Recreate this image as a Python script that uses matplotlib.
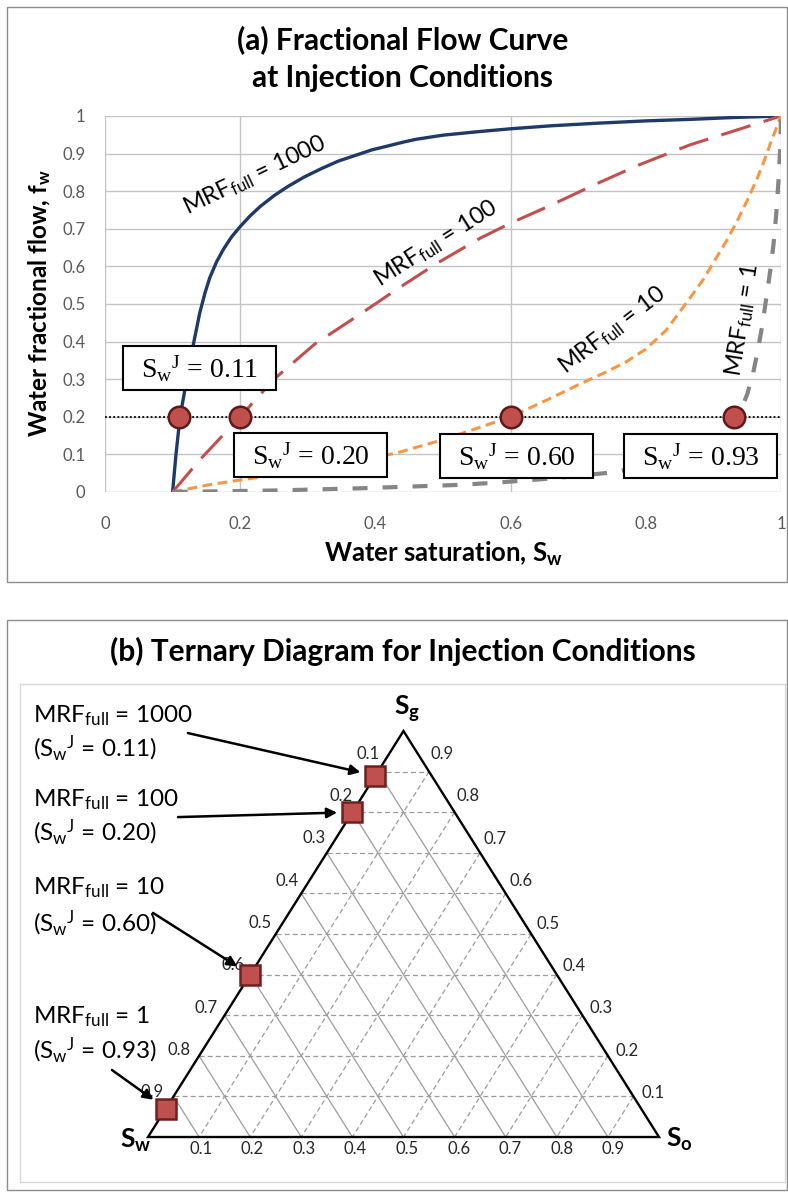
import matplotlib
matplotlib.use("Agg")
import matplotlib.pyplot as plt
import numpy as np
from matplotlib.patches import Rectangle, Polygon
from matplotlib.transforms import Affine2D

plt.rcParams["font.family"] = ["Lato", "DejaVu Sans"]
plt.rcParams["mathtext.default"] = "regular"

# ---------------- data ----------------
mrf_values = [1000, 100, 10, 1]

sw_mrf1000 = [0.10, 0.105, 0.111, 0.118, 0.124, 0.131, 0.14, 0.148, 0.155, 0.165,
              0.175, 0.187, 0.20, 0.215, 0.23, 0.25, 0.27, 0.295, 0.32, 0.345,
              0.37, 0.395, 0.42, 0.44, 0.46, 0.50, 0.55, 0.60, 0.66, 0.73,
              0.80, 0.865, 0.93, 1.0]
fw_mrf1000 = [0.0, 0.10, 0.20, 0.27, 0.33, 0.395, 0.475, 0.53, 0.57, 0.612,
              0.645, 0.678, 0.706, 0.735, 0.76, 0.788, 0.812, 0.838, 0.86, 0.88,
              0.895, 0.91, 0.921, 0.93, 0.938, 0.949, 0.958, 0.966, 0.974, 0.981,
              0.987, 0.991, 0.996, 1.0]

sw_mrf100 = [0.10, 0.14, 0.20, 0.25, 0.31, 0.375, 0.43, 0.49, 0.555, 0.60,
             0.66, 0.725, 0.79, 0.865, 0.935, 1.0]
fw_mrf100 = [0.0, 0.085, 0.20, 0.30, 0.393, 0.47, 0.537, 0.607, 0.675, 0.715,
             0.763, 0.818, 0.870, 0.923, 0.963, 1.0]

sw_mrf10 = [0.10, 0.15, 0.20, 0.26, 0.43, 0.49, 0.54, 0.60, 0.63, 0.66,
            0.70, 0.74, 0.77, 0.80, 0.83, 0.865, 0.885, 0.905, 0.92, 0.935,
            0.95, 0.965, 0.975, 0.985, 1.0]
fw_mrf10 = [0.0, 0.018, 0.032, 0.047, 0.103, 0.134, 0.163, 0.20, 0.225, 0.25,
            0.285, 0.318, 0.345, 0.38, 0.43, 0.515, 0.565, 0.625, 0.67, 0.72,
            0.775, 0.835, 0.88, 0.93, 1.0]

sw_mrf1 = [0.10, 0.25, 0.38, 0.525, 0.58, 0.66, 0.75, 0.85, 0.90, 0.922,
           0.937, 0.95, 0.958, 0.965, 0.972, 0.979, 0.985, 0.989, 0.993, 0.996,
           0.999, 1.0]
fw_mrf1 = [0.0, 0.004, 0.01, 0.019, 0.025, 0.036, 0.052, 0.085, 0.13, 0.165,
           0.20, 0.26, 0.31, 0.37, 0.44, 0.525, 0.60, 0.66, 0.74, 0.82,
           0.92, 1.0]

sw_inj = [0.11, 0.20, 0.60, 0.93]   # water saturation at injection point
fw_inj = 0.2                        # injected water fraction

x_ticks = [0, 0.2, 0.4, 0.6, 0.8, 1.0]
x_ticklabels = ["0", "0.2", "0.4", "0.6", "0.8", "1"]
y_ticks = [round(0.1 * i, 1) for i in range(11)]
y_ticklabels = ["0", "0.1", "0.2", "0.3", "0.4", "0.5", "0.6", "0.7", "0.8", "0.9", "1"]

tern_levels = [0.1, 0.2, 0.3, 0.4, 0.5, 0.6, 0.7, 0.8, 0.9]

# ---------------- figure ----------------
W, H = 788, 1192
fig = plt.figure(figsize=(W / 100, H / 100), dpi=100)
pix = Affine2D().scale(1 / W, -1 / H).translate(0, 1) + fig.transFigure


def ax_rect(l, t, r, b):
    return [l / W, 1 - b / H, (r - l) / W, (b - t) / H]


def mrf_label(v):
    return r"MRF$_{full}$ = %d" % v


def swj_label(v):
    return r"S$_{w}{}^{J}$ = %.2f" % v


# panel frames
fig.add_artist(Rectangle((7, 7), 780, 575, transform=pix, fill=False,
                         ec="#8c8c8c", lw=1.0))
fig.add_artist(Rectangle((7, 620), 780, 570, transform=pix, fill=False,
                         ec="#8c8c8c", lw=1.0))

# ================= (a) fractional flow =================
fig.text(403, 49, "(a) Fractional Flow Curve", transform=pix, ha="center",
         va="baseline", fontsize=21.5, fontweight="bold")
fig.text(403, 87, "at Injection Conditions", transform=pix, ha="center",
         va="baseline", fontsize=21.5, fontweight="bold")

ax = fig.add_axes(ax_rect(105, 116, 781, 492))
ax.set_xlim(0, 1)
ax.set_ylim(0, 1)
for s in ax.spines.values():
    s.set_visible(False)
ax.set_xticks(x_ticks)
ax.set_xticklabels(x_ticklabels)
ax.set_yticks(y_ticks)
ax.set_yticklabels(y_ticklabels)
ax.tick_params(length=0, labelsize=12, colors="#595959")
ax.tick_params(axis="x", pad=17)
ax.tick_params(axis="y", pad=14)

grid_c = "#c4c4c4"
for yv in y_ticks:
    ax.axhline(yv, color=grid_c, lw=1.0, zorder=0)
for xv in [0.0, 0.2, 0.6, 1.0]:
    ax.axvline(xv, color=grid_c, lw=1.0, zorder=0)

ax.plot(sw_mrf1000, fw_mrf1000, color="#1f3a68", lw=2.4, zorder=3)
ax.plot(sw_mrf100, fw_mrf100, color="#c0504d", lw=2.2, dashes=(10, 4.5), zorder=3)
ax.plot(sw_mrf10, fw_mrf10, color="#f79646", lw=2.2, dashes=(3.2, 1.8), zorder=3)
ax.plot(sw_mrf1, fw_mrf1, color="#858585", lw=3.0, dashes=(3.6, 3.6), zorder=3)

ax.plot([0, 1], [fw_inj, fw_inj], color="black", lw=1.3,
        dashes=(1, 1.3), zorder=4)
ax.plot(sw_inj, [fw_inj] * len(sw_inj), "o", ms=15.5, mfc="#c0504d",
        mec="#5e1a18", mew=1.8, zorder=6, ls="none")

# curve labels
curve_lab_pos = [(0.222, 0.843, 25.5), (0.490, 0.662, 32.5),
                 (0.751, 0.430, 37.5), (0.944, 0.457, 81)]
for v, (lx, ly, rot) in zip(mrf_values, curve_lab_pos):
    ax.text(lx, ly, mrf_label(v), rotation=rot, rotation_mode="anchor",
            ha="center", va="center", fontsize=17, zorder=7)

# S_w^J boxes
box_pos = [(0.1398, 0.331), (0.3047, 0.0997), (0.6087, 0.0957), (0.881, 0.0957)]
bw, bh = 153 / 676, 44 / 376
for v, (bx, by) in zip(sw_inj, box_pos):
    ax.add_patch(Rectangle((bx - bw / 2, by - bh / 2), bw, bh, fc="white",
                           ec="black", lw=1.5, zorder=8))
    ax.annotate(swj_label(v), (bx, by), xytext=(0, -10),
                textcoords="offset pixels", ha="center", va="baseline",
                fontsize=20, family=["Liberation Serif", "DejaVu Serif"],
                zorder=9)

fig.text(443, 562, r"Water saturation, S$_{w}$", transform=pix, ha="center",
         va="baseline", fontsize=18.5, fontweight="bold")
fig.text(40, 303, r"Water fractional flow, f$_{w}$", transform=pix,
         ha="center", va="center", rotation=90, fontsize=17.5,
         fontweight="bold")

# ================= (b) ternary diagram =================
fig.text(403, 661, "(b) Ternary Diagram for Injection Conditions",
         transform=pix, ha="center", va="baseline", fontsize=21.5,
         fontweight="bold")

tx = fig.add_axes(ax_rect(20, 684, 785, 1182))
tx.set_xlim(-0.2505, 1.2466)
tx.set_ylim(-0.1108, 1.1158)
tx.set_xticks([])
tx.set_yticks([])
for s in tx.spines.values():
    s.set_color("#d9d9d9")
    s.set_linewidth(1.0)


def tern(sw, so, sg):
    return so + sg / 2.0, sg


tgrid = "#9c9c9c"
for v in tern_levels:
    # constant Sg (horizontal)
    p, q = tern(1 - v, 0, v), tern(0, 1 - v, v)
    tx.plot([p[0], q[0]], [p[1], q[1]], color=tgrid, lw=0.9, dashes=(4, 2.5),
            zorder=1)
    # constant Sw
    p, q = tern(v, 0, 1 - v), tern(v, 1 - v, 0)
    tx.plot([p[0], q[0]], [p[1], q[1]], color=tgrid, lw=0.9, zorder=1)
    # constant So
    p, q = tern(0, v, 1 - v), tern(1 - v, v, 0)
    tx.plot([p[0], q[0]], [p[1], q[1]], color=tgrid, lw=0.9, dashes=(4, 2.5),
            zorder=1)

tx.add_patch(Polygon([tern(1, 0, 0), tern(0, 1, 0), tern(0, 0, 1)],
                     closed=True, fill=False, ec="black", lw=1.7, zorder=2))

tick_c = "#262626"
for v in tern_levels:
    # Sw along the left edge
    p = tern(v, 0, 1 - v)
    tx.annotate("%.1f" % v, p, xytext=(-10 - 13.75 * (v - 0.1),
                                      18 - 17.5 * (v - 0.1)),
                textcoords="offset pixels", ha="center", va="center",
                fontsize=12, color=tick_c)
    # Sg along the right edge
    p = tern(0, 1 - v, v)
    tx.annotate("%.1f" % v, p, xytext=(20 - 8.75 * (v - 0.1),
                                      3 + 18.75 * (v - 0.1)),
                textcoords="offset pixels", ha="center", va="center",
                fontsize=12, color=tick_c)
    # So along the base
    p = tern(1 - v, v, 0)
    tx.annotate("%.1f" % v, p, xytext=(1 + 5 * v, -12),
                textcoords="offset pixels", ha="center", va="center",
                fontsize=12, color=tick_c)

tx.text(0.507, 1.039, r"S$_{g}$", ha="center", va="baseline", fontsize=19,
        fontweight="bold")
tx.text(-0.0235, -0.027, r"S$_{w}$", ha="center", va="baseline", fontsize=19,
        fontweight="bold")
tx.text(1.040, -0.024, r"S$_{o}$", ha="center", va="baseline", fontsize=19,
        fontweight="bold")

# injection points on the Sw-Sg edge
pts = [tern(v, 0, 1 - v) for v in sw_inj]
tx.plot([p[0] for p in pts], [p[1] for p in pts], "s", ms=14.5,
        mfc="#c0504d", mec="#6e201e", mew=1.8, ls="none", zorder=5)

note_base = [(1.0205, 0.9367), (0.8136, 0.7298), (0.5985, 0.5057),
             (0.280, 0.1938)]
arrow_start = [(0.078, 0.995), (0.0587, 0.788), (0.0098, 0.552),
               (-0.0705, 0.165)]
for v, s, (y1, y2), a0, p in zip(mrf_values, sw_inj, note_base,
                                 arrow_start, pts):
    tx.text(-0.225, y1, mrf_label(v), ha="left", va="baseline", fontsize=17.5)
    tx.text(-0.225, y2, "(" + swj_label(s) + ")", ha="left", va="baseline",
            fontsize=17.5)
    tx.annotate("", xy=p, xytext=a0,
                arrowprops=dict(arrowstyle="-|>", color="black", lw=1.8,
                                shrinkA=0, shrinkB=11, mutation_scale=15))

fig.savefig("out.png", dpi=100)
